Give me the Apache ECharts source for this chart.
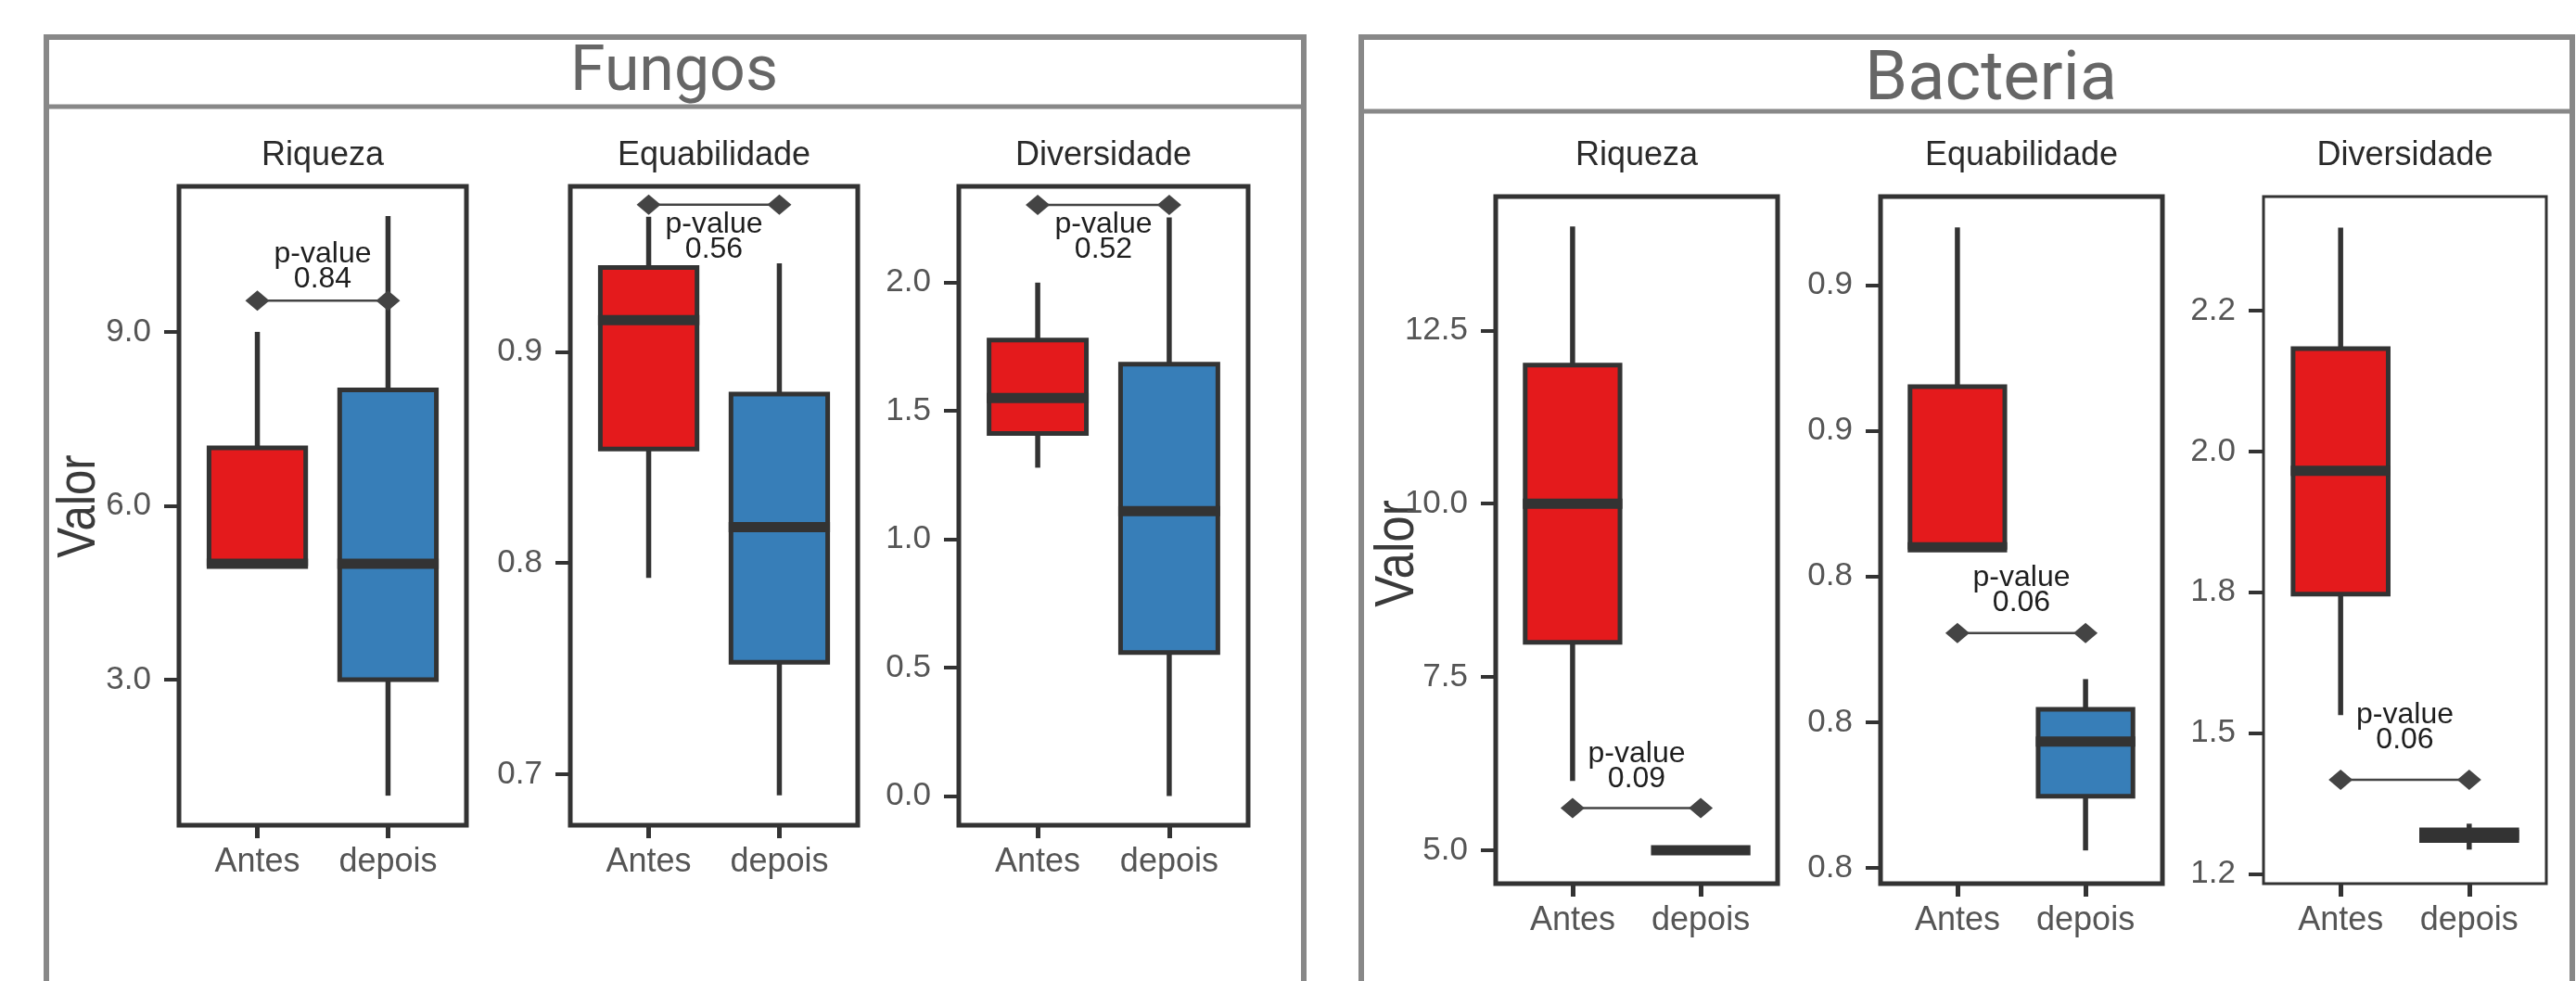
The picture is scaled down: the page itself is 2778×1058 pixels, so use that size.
<!DOCTYPE html>
<html>
<head>
<meta charset="utf-8">
<script src="https://cdn.jsdelivr.net/npm/echarts@6/dist/echarts.min.js"></script>
<style>
  html, body { margin: 0; padding: 0; background: #fff; }
  #container { width: 2778px; height: 1058px; }
</style>
</head>
<body>
<div id="container"></div>
<script>
// categorias e paineis
const categories = ['Antes', 'depois'];
const indices = ['Riqueza', 'Equabilidade', 'Diversidade'];
const groups = ['Fungos', 'Bacteria'];

// resumo de cinco numeros: [min, Q1, mediana, Q3, max]
const fungosRiquezaAntes = [5, 5, 5, 7, 9];
const fungosRiquezaDepois = [1, 3, 5, 8, 11];
const fungosEquabAntes = [0.793, 0.854, 0.915, 0.940, 0.964];
const fungosEquabDepois = [0.690, 0.753, 0.817, 0.880, 0.942];
const fungosDiversAntes = [1.279, 1.412, 1.550, 1.776, 2.0];
const fungosDiversDepois = [0.0, 0.559, 1.110, 1.682, 2.254];
const bactRiquezaAntes = [6, 8, 10, 12, 14];
const bactRiquezaDepois = [5, 5, 5, 5, 5];
const bactEquabAntes = [0.855, 0.855, 0.855, 0.8826, 0.9099];
const bactEquabDepois = [0.803, 0.8123, 0.8217, 0.8272, 0.8324];
const bactDiversAntes = [1.532, 1.747, 1.966, 2.183, 2.398];
const bactDiversDepois = [1.293, 1.309, 1.319, 1.328, 1.339];

// p-values e onde ficam (escala do eixo y)
const pValues = ['0.84', '0.56', '0.52', '0.09', '0.06', '0.06'];
const bracketY = [9.54, 0.9697, 2.303, 5.61, 0.8403, 1.417];
const labelY = [10.13, 0.9545, 2.178, 6.205, 0.8476, 1.509];

// eixos y
const yRanges = [[0.49, 11.51], [0.6758, 0.9784], [-0.114, 2.375], [4.52, 14.43], [0.7973, 0.9152], [1.2325, 2.453]];
const yTicks = [[3, 6, 9], [0.7, 0.8, 0.9], [0, 0.5, 1, 1.5, 2], [5, 7.5, 10, 12.5], [0.8, 0.825, 0.85, 0.875, 0.9], [1.25, 1.5, 1.75, 2, 2.25]];
const yTickLabels = [['3.0', '6.0', '9.0'], ['0.7', '0.8', '0.9'], ['0.0', '0.5', '1.0', '1.5', '2.0'], ['5.0', '7.5', '10.0', '12.5'], ['0.8', '0.8', '0.8', '0.9', '0.9'], ['1.2', '1.5', '1.8', '2.0', '2.2']];

const boxData = [
  [fungosRiquezaAntes, fungosRiquezaDepois],
  [fungosEquabAntes, fungosEquabDepois],
  [fungosDiversAntes, fungosDiversDepois],
  [bactRiquezaAntes, bactRiquezaDepois],
  [bactEquabAntes, bactEquabDepois],
  [bactDiversAntes, bactDiversDepois]
];

const FONT = '"Liberation Sans", Arial, sans-serif';
const boxColors = ['#E41A1C', '#377EB8'];
const dark = '#333333';
const halfBox = 0.37;

// layout dos graficos (px)
const grids = [
  { left: 193, top: 201, width: 310, height: 689, border: 5 },
  { left: 615, top: 201, width: 310, height: 689, border: 5 },
  { left: 1034, top: 201, width: 312, height: 689, border: 5 },
  { left: 1613, top: 212, width: 304, height: 741, border: 5 },
  { left: 2028, top: 212, width: 304, height: 741, border: 5 },
  { left: 2441, top: 212, width: 305, height: 741, border: 3 }
];

const chart = echarts.init(document.getElementById('container'));

const renderBox = (params, api) => {
  const x = api.value(0);
  const lo = api.value(1), q1 = api.value(2), med = api.value(3), q3 = api.value(4), hi = api.value(5);
  const pHi = api.coord([x, hi]);
  const pQ3 = api.coord([x, q3]);
  const pQ1 = api.coord([x, q1]);
  const pLo = api.coord([x, lo]);
  const tl = api.coord([x - halfBox, q3]);
  const br = api.coord([x + halfBox, q1]);
  const mL = api.coord([x - halfBox, med]);
  const mR = api.coord([x + halfBox, med]);
  return {
    type: 'group',
    children: [
      { type: 'line', shape: { x1: pHi[0], y1: pHi[1], x2: pQ3[0], y2: pQ3[1] }, style: { stroke: dark, lineWidth: 5.5 } },
      { type: 'line', shape: { x1: pQ1[0], y1: pQ1[1], x2: pLo[0], y2: pLo[1] }, style: { stroke: dark, lineWidth: 5.5 } },
      { type: 'rect', shape: { x: tl[0], y: tl[1], width: br[0] - tl[0], height: br[1] - tl[1] },
        style: { fill: boxColors[params.dataIndex], stroke: dark, lineWidth: 5 } },
      { type: 'line', shape: { x1: mL[0] - 2.5, y1: mL[1], x2: mR[0] + 2.5, y2: mR[1] }, style: { stroke: dark, lineWidth: 11 } }
    ]
  };
};

const renderBracket = (params, api) => {
  const ly = api.value(1), by = api.value(2);
  const a = api.coord([1, by]);
  const b = api.coord([2, by]);
  const t = api.coord([1.5, ly]);
  const diamond = (p) => ({
    type: 'polygon',
    shape: { points: [[p[0] - 13, p[1]], [p[0], p[1] - 11], [p[0] + 13, p[1]], [p[0], p[1] + 11]] },
    style: { fill: '#444' }
  });
  return {
    type: 'group',
    children: [
      { type: 'line', shape: { x1: a[0], y1: a[1], x2: b[0], y2: b[1] }, style: { stroke: '#444', lineWidth: 2.5 } },
      diamond(a),
      diamond(b),
      { type: 'text', x: t[0], y: t[1],
        style: { text: 'p-value\n' + pValues[params.seriesIndex / 2 | 0], font: '32px ' + FONT, lineHeight: 27,
                 fill: '#1e1e1e', align: 'center', verticalAlign: 'middle' } }
    ]
  };
};

const gridOpts = [], xAxes = [], yAxes = [], series = [];
grids.forEach((g, i) => {
  gridOpts.push({ left: g.left, top: g.top, width: g.width, height: g.height, show: true,
    borderColor: dark, borderWidth: g.border, backgroundColor: '#fff' });
  xAxes.push({
    gridIndex: i, type: 'value', min: 0.4, max: 2.6, position: 'bottom',
    splitLine: { show: false }, axisLine: { show: false, onZero: false },
    axisTick: { show: true, customValues: [1, 2], length: 14, lineStyle: { color: dark, width: 5 } },
    axisLabel: { customValues: [1, 2], formatter: (v) => categories[Math.round(v) - 1],
      margin: 22, fontSize: 36, color: '#555', fontFamily: FONT }
  });
  yAxes.push({
    gridIndex: i, type: 'value', min: yRanges[i][0], max: yRanges[i][1], position: 'left',
    splitLine: { show: false }, axisLine: { show: false, onZero: false },
    axisTick: { show: true, customValues: yTicks[i], length: 16, lineStyle: { color: dark, width: 4 } },
    axisLabel: { customValues: yTicks[i], margin: 30, fontSize: 35, color: '#555', fontFamily: FONT,
      formatter: (v) => {
        let best = 0;
        yTicks[i].forEach((t, j) => { if (Math.abs(t - v) < Math.abs(yTicks[i][best] - v)) best = j; });
        return yTickLabels[i][best];
      } }
  });
  series.push({
    type: 'custom', xAxisIndex: i, yAxisIndex: i, renderItem: renderBox,
    encode: { x: 0, y: [1, 2, 3, 4, 5] },
    data: boxData[i].map((d, k) => [k + 1].concat(d))
  });
  series.push({
    type: 'custom', xAxisIndex: i, yAxisIndex: i, renderItem: renderBracket, z: 5,
    encode: { x: 0, y: [1, 2] },
    data: [[1.5, labelY[i], bracketY[i]]]
  });
});

const frame = '#888888';
const graphics = [
  { type: 'rect', shape: { x: 50, y: 40, width: 1356, height: 1100 }, style: { fill: 'none', stroke: frame, lineWidth: 6 } },
  { type: 'line', shape: { x1: 50, y1: 115, x2: 1406, y2: 115 }, style: { stroke: frame, lineWidth: 5 } },
  { type: 'rect', shape: { x: 1468, y: 40, width: 1306, height: 1100 }, style: { fill: 'none', stroke: frame, lineWidth: 6 } },
  { type: 'line', shape: { x1: 1468, y1: 120, x2: 2774, y2: 120 }, style: { stroke: frame, lineWidth: 5 } },
  { type: 'text', x: 727, y: 80, style: { text: groups[0], font: '68px Roboto, ' + FONT, fill: '#666', align: 'center', verticalAlign: 'middle' } },
  { type: 'text', x: 2147, y: 88, style: { text: groups[1], font: '74px Roboto, ' + FONT, fill: '#666', align: 'center', verticalAlign: 'middle' } },
  { type: 'text', x: 86, y: 546, rotation: Math.PI / 2, scaleX: 0.85,
    style: { text: 'Valor', font: '58px ' + FONT, fill: '#3a3a3a', align: 'center', verticalAlign: 'middle' } },
  { type: 'text', x: 1507, y: 597, rotation: Math.PI / 2, scaleX: 0.85,
    style: { text: 'Valor', font: '60px ' + FONT, fill: '#3a3a3a', align: 'center', verticalAlign: 'middle' } }
];
grids.forEach((g, i) => {
  graphics.push({ type: 'text', x: g.left + g.width / 2, y: 168,
    style: { text: indices[i % 3], font: '36px ' + FONT, fill: '#2a2a2a', align: 'center', verticalAlign: 'middle' } });
});

const option = {
  animation: false,
  backgroundColor: '#fff',
  textStyle: { fontFamily: FONT },
  grid: gridOpts,
  xAxis: xAxes,
  yAxis: yAxes,
  series: series,
  graphic: graphics
};

chart.setOption(option);
</script>
</body>
</html>
